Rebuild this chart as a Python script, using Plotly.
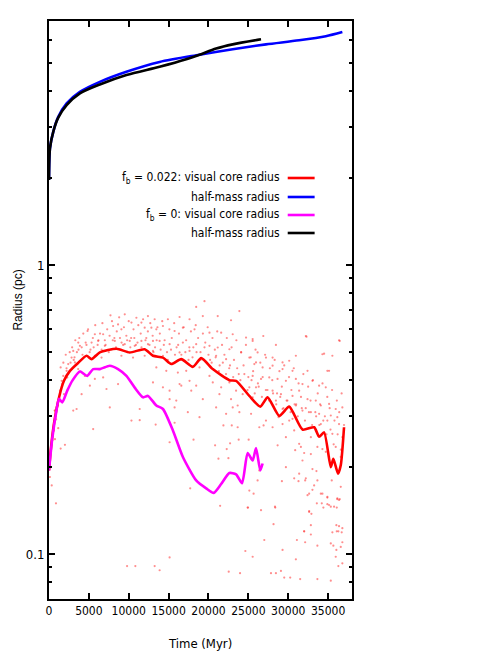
import plotly.graph_objects as go

# ---------------- data ----------------
# f_b = 0.022 visual core radius (smoothed)
red_t = [0, 210, 625, 1250, 1875, 2625, 3650, 4710, 5340, 6375, 8460, 10125, 12000, 13040,
         14290, 15340, 16590, 18040, 19090, 20540, 22625, 23460, 25125, 26500, 27420, 28875,
         30125, 31790, 33250, 33875, 34500, 35340, 35660, 36250, 36590, 37000]
red_r = [0.195, 0.228, 0.283, 0.348, 0.398, 0.431, 0.459, 0.486, 0.473, 0.499, 0.514, 0.499,
         0.512, 0.486, 0.479, 0.455, 0.473, 0.445, 0.477, 0.437, 0.400, 0.398, 0.353, 0.324,
         0.349, 0.301, 0.324, 0.270, 0.275, 0.255, 0.264, 0.200, 0.214, 0.190, 0.203, 0.275]

# f_b = 0 visual core radius
mag_t = [0, 400, 900, 1250, 1660, 2290, 2910, 3875, 4790, 5540, 6375, 7625, 8660, 9710, 10750,
         11790, 12410, 13460, 14290, 15540, 16790, 18460, 19710, 20660, 21590, 22625, 23460,
         24210, 24910, 25540, 25960, 26500, 26790]
mag_r = [0.195, 0.25, 0.31, 0.345, 0.335, 0.368, 0.398, 0.429, 0.414, 0.437, 0.437, 0.449, 0.437,
         0.414, 0.377, 0.349, 0.353, 0.327, 0.318, 0.268, 0.217, 0.180, 0.169, 0.163, 0.175,
         0.191, 0.189, 0.176, 0.224, 0.211, 0.233, 0.195, 0.206]

# f_b = 0.022 half-mass radius
blue_t = [0, 125, 540, 1160, 2210, 3875, 6375, 9710, 13875, 18875, 23040, 27210, 31375, 34710, 36790]
blue_r = [1.97, 2.54, 2.90, 3.26, 3.63, 3.98, 4.31, 4.67, 5.05, 5.35, 5.59, 5.81, 6.00, 6.20, 6.41]

# f_b = 0 half-mass radius
blk_t = [0, 125, 540, 1160, 2210, 3875, 6375, 9710, 13875, 17210, 18875, 20960, 23040, 26590]
blk_r = [1.97, 2.54, 2.90, 3.24, 3.58, 3.93, 4.22, 4.55, 4.86, 5.16, 5.35, 5.62, 5.81, 6.05]

# f_b = 0.022 raw visual core radius samples (dots)
dot_t = [
    875, 21460, 24910, 26590, 28375, 28160, 27000, 24625, 25540, 29290, 30960, 9790, 10830, 13250,
    13875, 15125, 22540, 23960, 27840, 28460, 29090, 29500, 30250, 31500, 33660, 35340, 31090,
    32000, 32125, 32840, 33660, 32625, 32910, 33590, 34410, 34910, 35750, 36090, 36375, 35340,
    35660, 35540, 36090, 36375, 36710, 36790, 36590, 36040, 35960, 36290, 36790,
    13375, 15125, 15750, 17710, 18125, 20830, 21250, 22290, 22500, 22710, 21875, 22920, 23660,
    23790, 25040, 25125, 25660, 26160, 26375, 24960, 28340, 28670, 29710, 29210, 30750, 31290,
    32125, 31790, 32000, 32420, 33040, 33250, 34090, 34210, 34910, 35125, 35460, 36160, 36460,
    36590, 32625, 32000, 32840, 36290, 36790, 36040, 33040, 33540, 31590, 30875, 34290, 34710,
    28790, 26910,
    5540, 11375, 2000, 1460, 340, 120, 1160, 750,
    8660, 7625, 10340, 11375, 3460, 3040, 5125, 4090, 6790, 13040, 14290, 15125, 15750, 17410,
    18875, 17840, 16375, 19290, 20960, 21375, 22210, 23040, 23875, 25340, 31375, 32210, 32625,
    34290, 34910, 33660, 35340, 36160, 36460, 34500, 35125, 32210,
    7710, 9500, 10960, 12410, 4830, 5750, 6790, 8040, 8660, 9080, 10340, 11590, 12000, 12840,
    3670, 3875, 3040, 2830, 2410, 2210, 5340, 6170, 7000, 8250, 7830, 9500, 10125, 10750, 11590,
    12410, 13040, 3250, 3660, 1790, 1590, 1375, 1160, 960, 750, 5750, 6590, 9080, 10540, 12000,
    7000, 5750, 7210, 4500,
    19500, 18460, 19290, 21160, 23875, 22830, 13250, 14910, 16375, 17625, 13460, 14290, 15750,
    16790, 18250, 20125, 21590, 23040, 24710, 25540, 13875, 15125, 16790, 18460, 20125, 21160,
    22625, 24090, 25125, 25960, 13040, 14290, 16375, 17625, 20960, 22210, 13460, 14710, 16160,
    17210, 18875, 20125, 20540, 21590, 22625, 23460, 24290, 25125, 25540, 22830, 23660, 17625,
    18460, 16590, 15125, 15960,
    26875, 25540, 28460, 32290, 30960, 34290, 35540, 36375, 26160, 27210, 28040, 29290, 30125,
    25750, 26790, 28040, 29290, 30540, 32420, 34910, 25540, 26590, 27625, 28660, 29710, 30960,
    31790, 33040, 33875, 34710, 25960, 28040, 29090, 30540, 31375, 32420, 33460, 34090, 35125,
    35960, 36790, 30960, 31790, 32840, 33875, 35340, 36160, 30540, 29290, 28460,
    29710, 30750, 31375, 32840, 33660, 34090, 34910, 35540, 35960, 36375, 36790, 32840, 35125,
    36590, 29290, 30125, 28040, 27210, 26375,
    625, 420, 710, 1125, 900, 1660, 1875, 2290, 1460,
    1800, 2100, 2400, 2600, 2900, 3100, 3300, 3500, 3800, 4100, 4300, 4600, 4900, 5200, 5500,
    5800, 6100, 6400, 6700, 7000, 7300, 7600, 7900, 8200, 8500, 8800, 9100, 9400, 9700, 10000,
    10300, 10600, 10900, 11200, 11500, 11800, 12100, 12400, 12700, 13000, 13300, 13600, 13900,
    14200, 14500, 14800, 15100, 15400, 15700, 16000, 16300, 16600, 16900, 17200, 17500, 17800,
    18100, 18400, 18700, 19000, 19300, 19600, 19900, 20200, 20500, 20800, 21100, 21400, 21700,
    22000, 22300, 22600, 22900, 23200, 23500, 23800, 24100, 24400, 24700, 25000, 25300, 25600,
    25900, 26200, 26500, 26800, 27100, 27400, 27700, 28000, 28300, 28600, 28900, 29200, 29500,
    29800, 30100, 30400, 30700, 31000, 31300, 31600, 31900, 32200, 32500, 32800, 33100, 33400,
    33700, 34000, 34300, 34600, 34900, 35200, 35500, 35800, 36100, 36400, 36700, 37000,
    2200, 2700, 3200, 3700, 4200, 4700, 5100, 5600, 6200, 6600, 7100, 7500, 8000, 8400, 8900,
    9300, 9800, 10200, 10700, 11100, 11600, 12200, 12600, 13100, 13500, 14000, 14400, 14900,
    15300, 15800, 16200, 16700, 17100, 17600, 18000, 18500, 19000, 19500, 20000, 20400, 20900,
    21300, 21800, 22200, 22700, 23100, 23600, 24000, 24500, 24900, 25400, 25800, 26300, 26700,
    27200, 27600, 28100, 28500, 29000, 29400, 29900, 30300, 30800, 31200, 31700, 32100, 32600,
    33000, 33500, 33900, 34400, 34800, 35300, 35700, 36200, 36600,
]
dot_r = [
    0.150, 0.147, 0.145, 0.142, 0.145, 0.127, 0.112, 0.1026, 0.098, 0.1035, 0.096, 0.091, 0.091,
    0.091, 0.088, 0.0975, 0.087, 0.086, 0.086, 0.086, 0.0875, 0.083, 0.083, 0.082, 0.082, 0.081,
    0.112, 0.120, 0.110, 0.117, 0.107, 0.141, 0.138, 0.150, 0.145, 0.149, 0.146, 0.145, 0.154,
    0.109, 0.107, 0.119, 0.120, 0.125, 0.119, 0.110, 0.106, 0.1035, 0.098, 0.091, 0.093,
    0.281, 0.244, 0.285, 0.169, 0.249, 0.238, 0.214, 0.231, 0.215, 0.242, 0.279, 0.279, 0.275,
    0.249, 0.249, 0.166, 0.162, 0.180, 0.195, 0.145, 0.146, 0.238, 0.200, 0.179, 0.183, 0.179,
    0.180, 0.211, 0.224, 0.160, 0.167, 0.173, 0.162, 0.150, 0.157, 0.148, 0.180, 0.156, 0.155,
    0.171, 0.140, 0.120, 0.126, 0.120, 0.123, 0.126, 0.197, 0.194, 0.235, 0.229, 0.231, 0.226,
    0.298, 0.279,
    0.271, 0.291, 0.239, 0.232, 0.173, 0.185, 0.273, 0.250,
    0.388, 0.322, 0.290, 0.318, 0.318, 0.314, 0.383, 0.358, 0.409, 0.393, 0.378, 0.344, 0.322,
    0.310, 0.298, 0.368, 0.388, 0.344, 0.322, 0.358, 0.306, 0.322, 0.310, 0.306, 0.190, 0.183,
    0.162, 0.162, 0.158, 0.180, 0.146, 0.155, 0.547, 0.494, 0.431, 0.569,
    0.671, 0.676, 0.658, 0.667, 0.592, 0.577, 0.577, 0.616, 0.624, 0.600, 0.633, 0.633, 0.608,
    0.608, 0.540, 0.526, 0.505, 0.479, 0.455, 0.431, 0.540, 0.547, 0.526, 0.547, 0.512, 0.533,
    0.547, 0.526, 0.547, 0.533, 0.547, 0.461, 0.437, 0.414, 0.398, 0.368, 0.340, 0.322, 0.314,
    0.486, 0.479, 0.486, 0.479, 0.486, 0.443, 0.404, 0.373, 0.414,
    0.751, 0.717, 0.667, 0.667, 0.694, 0.645, 0.650, 0.650, 0.662, 0.650, 0.600, 0.616, 0.592,
    0.608, 0.600, 0.584, 0.584, 0.577, 0.562, 0.555, 0.547, 0.533, 0.540, 0.533, 0.526, 0.519,
    0.512, 0.499, 0.479, 0.461, 0.505, 0.486, 0.499, 0.505, 0.486, 0.473, 0.443, 0.431, 0.425,
    0.431, 0.443, 0.414, 0.393, 0.378, 0.393, 0.368, 0.358, 0.378, 0.349, 0.344, 0.327, 0.398,
    0.383, 0.383, 0.368, 0.340,
    0.569, 0.547, 0.530, 0.566, 0.486, 0.492, 0.486, 0.550, 0.499, 0.479, 0.479, 0.461, 0.467,
    0.455, 0.443, 0.449, 0.437, 0.431, 0.431, 0.431, 0.414, 0.404, 0.409, 0.404, 0.398, 0.404,
    0.388, 0.398, 0.383, 0.378, 0.378, 0.368, 0.358, 0.353, 0.368, 0.344, 0.340, 0.327, 0.331,
    0.318, 0.322, 0.327, 0.314, 0.310, 0.306, 0.302, 0.298, 0.294, 0.318, 0.340,
    0.254, 0.268, 0.241, 0.254, 0.235, 0.282, 0.290, 0.261, 0.235, 0.282, 0.254, 0.222, 0.217,
    0.217, 0.282, 0.290, 0.275, 0.290, 0.275,
    0.268, 0.248, 0.314, 0.327, 0.293, 0.388, 0.358, 0.409, 0.443,
    0.46, 0.49, 0.42, 0.50, 0.52, 0.47, 0.55, 0.50, 0.56, 0.52, 0.58, 0.54, 0.60, 0.51, 0.56,
    0.62, 0.53, 0.58, 0.63, 0.55, 0.60, 0.57, 0.64, 0.56, 0.59, 0.66, 0.54, 0.61, 0.57, 0.64,
    0.56, 0.60, 0.53, 0.62, 0.58, 0.65, 0.55, 0.59, 0.63, 0.57, 0.52, 0.61, 0.58,
    0.64, 0.55, 0.50, 0.60, 0.56, 0.63, 0.52, 0.58, 0.49, 0.61, 0.55, 0.47, 0.59,
    0.52, 0.62, 0.56, 0.50, 0.58, 0.54, 0.61, 0.47, 0.56, 0.51, 0.59, 0.45, 0.53,
    0.49, 0.56, 0.44, 0.52, 0.47, 0.55, 0.42, 0.50, 0.45, 0.53, 0.41, 0.48, 0.43,
    0.51, 0.39, 0.46, 0.41, 0.49, 0.37, 0.44, 0.40, 0.47, 0.36, 0.43, 0.38, 0.45,
    0.34, 0.41, 0.37, 0.44, 0.33, 0.39, 0.35, 0.42, 0.32, 0.38, 0.34, 0.40, 0.31,
    0.36, 0.33, 0.39, 0.30, 0.35, 0.32, 0.37, 0.29, 0.34, 0.31, 0.36, 0.28,
    0.44, 0.46, 0.48, 0.51, 0.49, 0.53, 0.50, 0.52, 0.55, 0.51, 0.53, 0.50, 0.55, 0.52, 0.56,
    0.53, 0.55, 0.52, 0.56, 0.54, 0.52, 0.56, 0.53, 0.50, 0.55, 0.51, 0.53, 0.47,
    0.51, 0.49, 0.53, 0.47, 0.50, 0.52, 0.48, 0.50, 0.47, 0.52, 0.49, 0.46, 0.48,
    0.43, 0.46, 0.42, 0.45, 0.41, 0.44, 0.40, 0.42, 0.37, 0.40, 0.36, 0.38, 0.35,
    0.37, 0.34, 0.36, 0.33, 0.35, 0.32, 0.34, 0.31, 0.33, 0.30, 0.32, 0.29, 0.31,
    0.28, 0.30, 0.28, 0.29, 0.26, 0.27, 0.24, 0.26, 0.23,
]

x_ticks = [0, 5000, 10000, 15000, 20000, 25000, 30000, 35000]
x_tick_labels = ["0", "5000", "10000", "15000", "20000", "25000", "30000", "35000"]
y_ticks = [0.1, 1]
y_tick_labels = ["0.1", "1"]
y_minor = [0.08, 0.09, 0.2, 0.3, 0.4, 0.5, 0.6, 0.7, 0.8, 0.9, 2, 3, 4, 5, 6, 7]

legend_labels = ["f<sub>b</sub> = 0.022: visual core radius", "half-mass radius",
                 "f<sub>b</sub> = 0: visual core radius", "half-mass radius"]
legend_colors = ["#ff0000", "#0000ff", "#ff00ff", "#000000"]

# ---------------- figure ----------------
FONT = "DejaVu Sans Condensed, Liberation Sans Narrow, Liberation Sans, Arial, sans-serif"
W, H = 491, 654
OFF = 8  # page body margin offset in the screenshot
plot_top, plot_bot, plot_l, plot_r = 21, 599, 48.5, 352.5   # target screen pixels

fig = go.Figure()
fig.add_trace(go.Scatter(x=dot_t, y=dot_r, mode="markers",
                         marker=dict(color="rgba(255,50,50,0.55)", size=2.2),
                         showlegend=False, hoverinfo="skip"))
fig.add_trace(go.Scatter(x=red_t, y=red_r, mode="lines",
                         line=dict(color=legend_colors[0], width=2.6, shape="spline", smoothing=0.6),
                         showlegend=False))
fig.add_trace(go.Scatter(x=blue_t, y=blue_r, mode="lines",
                         line=dict(color=legend_colors[1], width=2.6, shape="spline", smoothing=0.8),
                         showlegend=False))
fig.add_trace(go.Scatter(x=mag_t, y=mag_r, mode="lines",
                         line=dict(color=legend_colors[2], width=2.6, shape="spline", smoothing=0.6),
                         showlegend=False))
fig.add_trace(go.Scatter(x=blk_t, y=blk_r, mode="lines",
                         line=dict(color=legend_colors[3], width=2.6, shape="spline", smoothing=0.8),
                         showlegend=False))


def px_x(px):
    return (px - plot_l) / (plot_r - plot_l)


def px_y(py):
    return (plot_bot - py) / (plot_bot - plot_top)


# gnuplot-style legend: right-aligned text with sample line on the right
legend_rows_px = [178, 197, 215, 233]
for lab, col, py in zip(legend_labels, legend_colors, legend_rows_px):
    fig.add_annotation(x=px_x(282), y=px_y(py), xref="paper", yref="paper",
                       text=lab, showarrow=False, xanchor="right", yanchor="middle",
                       font=dict(family=FONT, size=12, color="black"))
    fig.add_shape(type="line", xref="paper", yref="paper",
                  x0=px_x(288), x1=px_x(315), y0=px_y(py), y1=px_y(py),
                  line=dict(color=col, width=2.6))

# axis titles as paper annotations
fig.add_annotation(x=px_x(200), y=px_y(643), xref="paper", yref="paper", text="Time (Myr)",
                   showarrow=False, xanchor="center", yanchor="middle",
                   font=dict(family=FONT, size=13, color="black"))
fig.add_annotation(x=px_x(17), y=px_y(300), xref="paper", yref="paper", text="Radius (pc)",
                   showarrow=False, textangle=-90, xanchor="center", yanchor="middle",
                   font=dict(family="Liberation Sans, Arial, sans-serif", size=12, color="black"))

axis_common = dict(showline=True, linecolor="black", linewidth=2, mirror="allticks",
                   ticks="inside", tickcolor="black", tickwidth=2, showgrid=False, zeroline=False,
                   automargin=False)

fig.update_xaxes(range=[0, 38000], tickmode="array", tickvals=x_ticks, ticktext=x_tick_labels,
                 ticklen=6, tickfont=dict(family=FONT, size=12, color="black"),
                 **axis_common)
fig.update_yaxes(type="log", range=[-1.155, 0.845], tickmode="array", tickvals=y_ticks,
                 ticktext=y_tick_labels, ticklen=6,
                 minor=dict(tickvals=y_minor, ticks="inside", ticklen=3, tickcolor="black",
                            tickwidth=2),
                 tickfont=dict(family=FONT, size=13, color="black"),
                 **axis_common)

fig.update_layout(width=W, height=H, plot_bgcolor="white", paper_bgcolor="white",
                  margin=dict(l=plot_l - OFF, r=W - (plot_r - OFF), t=plot_top - OFF,
                              b=H - (plot_bot - OFF), autoexpand=False),
                  showlegend=False)

fig.write_html("out.html")
